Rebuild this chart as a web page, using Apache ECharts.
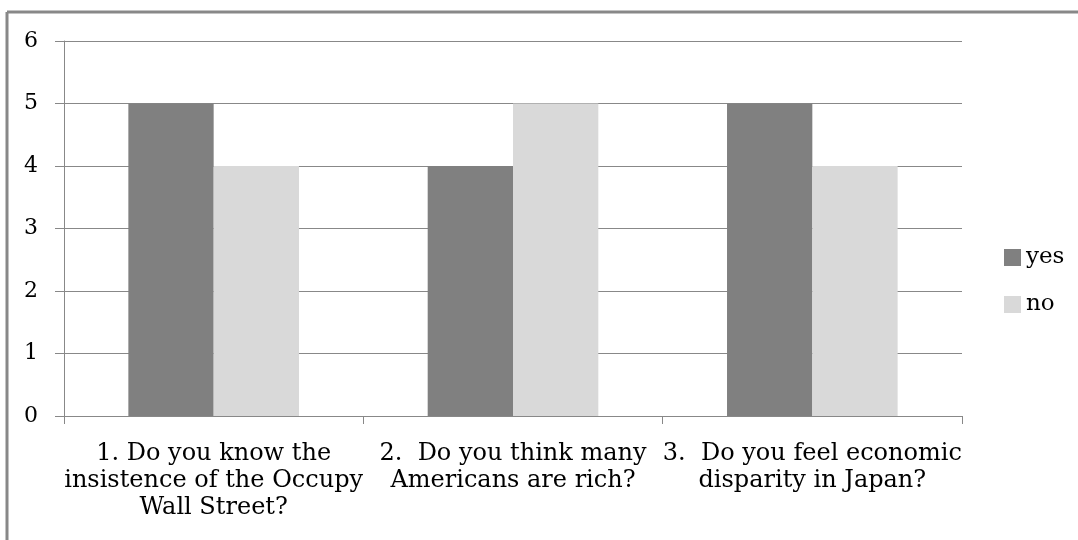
<!DOCTYPE html>
<html><head><meta charset="utf-8">
<script src="https://cdn.jsdelivr.net/npm/echarts@6/dist/echarts.min.js"></script>
<style>html,body{margin:0;padding:0;background:#fff}#c{width:1078px;height:540px}</style>
</head><body><div id="c"></div>
<script>
const categories = ["1. Do you know the\ninsistence of the Occupy\nWall Street?", "2.  Do you think many\nAmericans are rich?", "3.  Do you feel economic\ndisparity in Japan?"];
const yesValues = [5, 4, 5];
const noValues = [4, 5, 4];
const yTicks = [0, 1, 2, 3, 4, 5, 6];
const FONT = "DejaVu Serif";
const chart = echarts.init(document.getElementById('c'), null, {renderer: 'canvas'});
chart.setOption({
  animation: false,
  textStyle: {fontFamily: FONT},
  graphic: [
    {type: 'line', shape: {x1: 7, y1: 12, x2: 1078, y2: 12}, style: {stroke: '#888', lineWidth: 3}},
    {type: 'line', shape: {x1: 7, y1: 12, x2: 7, y2: 540}, style: {stroke: '#888', lineWidth: 3}}
  ],
  grid: {left: 64, right: 116, top: 41, bottom: 124},
  legend: {
    orient: 'vertical', left: 1004, top: 246, padding: 0, itemWidth: 17, itemHeight: 17, itemGap: 24,
    icon: 'rect',
    textStyle: {fontFamily: FONT, fontSize: 23, color: '#000'},
    data: ['yes', 'no']
  },
  xAxis: {
    type: 'category', data: categories,
    axisLine: {lineStyle: {color: '#888', width: 1}},
    axisTick: {show: true, length: 8, lineStyle: {color: '#888'}},
    axisLabel: {interval: 0, margin: 24, color: '#000', fontFamily: FONT, fontSize: 24, lineHeight: 27, align: 'center'}
  },
  yAxis: {
    type: 'value', min: 0, max: 6, interval: 1,
    axisLine: {show: true, lineStyle: {color: '#888', width: 1}},
    axisTick: {show: true, length: 9, lineStyle: {color: '#888'}},
    splitLine: {lineStyle: {color: '#888', width: 1}},
    axisLabel: {margin: 26, color: '#000', fontFamily: FONT, fontSize: 22,
      formatter: v => yTicks.includes(v) ? String(v) : ''}
  },
  series: [
    {name: 'yes', type: 'bar', data: yesValues, barGap: '0%', barCategoryGap: '43%', itemStyle: {color: '#808080'}},
    {name: 'no', type: 'bar', data: noValues, itemStyle: {color: '#d9d9d9'}}
  ]
});
</script></body></html>
